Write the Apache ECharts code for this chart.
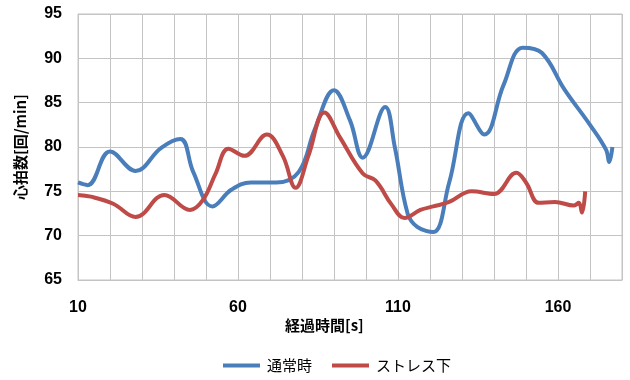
<!DOCTYPE html>
<html>
<head>
<meta charset="utf-8">
<script src="https://cdn.jsdelivr.net/npm/echarts@6/dist/echarts.min.js"></script>
<style>
  html, body { margin: 0; padding: 0; background: #fff; }
  #chart { width: 630px; height: 380px; }
</style>
</head>
<body>
<div id="chart"></div>
<script>
// Heart rate over elapsed time: normal vs. under stress
const seriesNames = ['通常時', 'ストレス下'];

const normalTime = [10, 13, 20, 28, 36, 42, 46, 52, 58, 64, 72, 79, 84, 90, 95, 99, 106, 109, 113, 116, 121, 126, 132, 137, 143, 149, 155, 162, 170, 175, 176, 177];
const normalRate = [76.0, 75.7, 79.5, 77.3, 79.9, 80.9, 77.2, 73.3, 75.2, 76.0, 76.0, 77.2, 82.0, 86.4, 83.0, 78.8, 84.5, 80.0, 72.5, 71.0, 70.4, 76.0, 83.8, 81.4, 87.0, 91.2, 90.6, 86.5, 82.5, 79.7, 78.3, 80.0];

const stressTime = [10, 14, 21, 28, 37, 45, 49, 53, 57, 62, 69, 74, 78, 82, 87, 92, 99, 103, 108, 112, 117, 121, 126, 133, 140, 147, 150, 154, 159, 165, 166.5, 167.5, 168.5];
const stressRate = [74.6, 74.4, 73.6, 72.1, 74.6, 72.9, 74.0, 77.0, 79.8, 79.0, 81.4, 79.0, 75.4, 79.0, 83.9, 81.0, 77.0, 76.2, 73.5, 72.0, 72.9, 73.3, 73.8, 75.0, 74.7, 77.1, 76.0, 73.7, 73.8, 73.4, 73.7, 72.6, 75.0];

const xLabels = [10, 60, 110, 160];
const xTitle = '経過時間[s]';
const yTitle = '心拍数[回/min]';

const pairs = (xs, ys) => xs.map((x, i) => [x, ys[i]]);

const gridColor = '#c4c4c4';
const numFont = '"Liberation Sans", "Noto Sans", sans-serif';
const jpFont = '"Noto Sans CJK JP", sans-serif';

const chart = echarts.init(document.getElementById('chart'), null, { renderer: 'canvas' });
chart.setOption({
  animation: false,
  backgroundColor: '#ffffff',
  grid: { left: 78, top: 14, right: 8, bottom: 100 },
  xAxis: {
    type: 'value',
    min: 10,
    max: 180,
    interval: 10,
    axisLine: { show: true, lineStyle: { color: gridColor, width: 1 } },
    axisTick: { show: false },
    splitLine: { show: true, lineStyle: { color: gridColor, width: 1 } },
    axisLabel: {
      margin: 20,
      fontFamily: numFont,
      fontWeight: 'bold',
      fontSize: 16,
      color: '#000',
      formatter: v => (xLabels.indexOf(v) >= 0 ? String(v) : '')
    }
  },
  yAxis: {
    type: 'value',
    min: 65,
    max: 95,
    interval: 5,
    name: yTitle,
    nameLocation: 'middle',
    nameGap: 50,
    nameTextStyle: { fontFamily: jpFont, fontWeight: 'bold', fontSize: 15, color: '#000' },
    axisLine: { show: true, lineStyle: { color: gridColor, width: 1 } },
    axisTick: { show: false },
    splitLine: { show: true, lineStyle: { color: gridColor, width: 1 } },
    axisLabel: { margin: 16, fontFamily: numFont, fontWeight: 'bold', fontSize: 16, color: '#000' }
  },
  legend: {
    bottom: 2,
    left: 218,
    itemGap: 20,
    itemWidth: 37,
    itemHeight: 4,
    icon: 'rect',
    textStyle: { fontFamily: jpFont, fontSize: 15, color: '#000', padding: [0, 0, 0, 2] },
    data: seriesNames
  },
  graphic: [{
    type: 'text',
    left: 285,
    top: 318,
    style: { text: xTitle, font: 'bold 15px "Noto Sans CJK JP", sans-serif', fill: '#000' }
  }, {
    type: 'rect',
    shape: { x: 78, y: 14, width: 544, height: 266 },
    style: { fill: 'none', stroke: gridColor, lineWidth: 1 },
    silent: true
  }],
  series: [{
    name: seriesNames[0],
    type: 'line',
    smooth: 0.4,
    showSymbol: false,
    symbol: 'none',
    color: '#4A7EBB',
    lineStyle: { width: 4, color: '#4A7EBB' },
    data: pairs(normalTime, normalRate)
  }, {
    name: seriesNames[1],
    type: 'line',
    smooth: 0.4,
    showSymbol: false,
    symbol: 'none',
    color: '#BE4B48',
    lineStyle: { width: 4, color: '#BE4B48' },
    data: pairs(stressTime, stressRate)
  }]
});
</script>
</body>
</html>
